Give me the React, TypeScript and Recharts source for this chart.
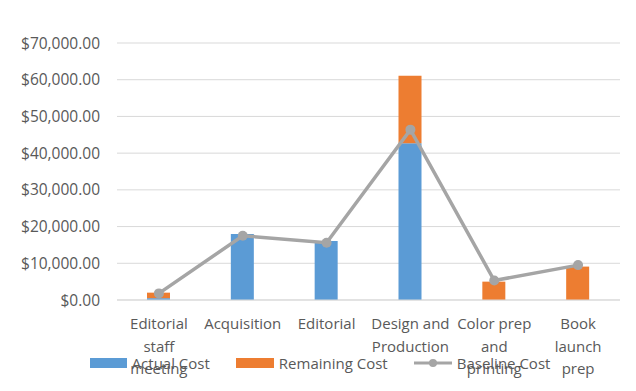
import React from "react";
import {
  ComposedChart,
  Bar,
  Line,
  XAxis,
  YAxis,
  CartesianGrid,
  Legend,
} from "recharts";

const categories = [
  "Editorial staff meeting",
  "Acquisition",
  "Editorial",
  "Design and Production",
  "Color prep and printing",
  "Book launch prep",
];
const actualCost = [500, 18000, 16100, 42700, 0, 0];
const remainingCost = [1500, 0, 0, 18400, 5000, 9100];
const baselineCost = [1800, 17500, 15600, 46400, 5300, 9500];
const yTicks = [0, 10000, 20000, 30000, 40000, 50000, 60000, 70000];

const BLUE = "#5b9bd5";
const ORANGE = "#ed7d31";
const GRAY = "#a5a5a5";
const TEXT = "#595959";
const FONT = "'Open Sans', sans-serif";

const data = categories.map((name, i) => ({
  name,
  actual: actualCost[i],
  remaining: remainingCost[i],
  baseline: baselineCost[i],
}));

const formatMoney = (v: number) =>
  "$" +
  v.toLocaleString("en-US", { minimumFractionDigits: 2, maximumFractionDigits: 2 });

let ctx: CanvasRenderingContext2D | null = null;
const textWidth = (s: string) => {
  if (!ctx) ctx = document.createElement("canvas").getContext("2d");
  if (!ctx) return s.length * 8;
  ctx.font = "15px 'Open Sans'";
  return ctx.measureText(s).width;
};

// greedy word wrap, like excel does for long category names
const wrapWords = (text: string, max: number) => {
  const lines: string[] = [];
  let cur = "";
  text.split(" ").forEach((w) => {
    const next = cur ? cur + " " + w : w;
    if (cur && textWidth(next) > max) {
      lines.push(cur);
      cur = w;
    } else {
      cur = next;
    }
  });
  if (cur) lines.push(cur);
  return lines;
};

const CategoryTick = ({ x, y, payload }: any) => {
  const lines = wrapWords(payload.value, 82);
  return (
    <g transform={`translate(${x},${y})`}>
      {lines.map((l, i) => (
        <text
          key={i}
          x={0}
          y={29 + i * 22.5}
          textAnchor="middle"
          fill={TEXT}
          fontSize={15}
          fontFamily={FONT}
        >
          {l}
        </text>
      ))}
    </g>
  );
};

const LegendContent = () => {
  const item = (swatch: React.ReactNode, label: string) => (
    <div style={{ display: "flex", alignItems: "center", marginRight: 26 }}>
      {swatch}
      <span style={{ marginLeft: 5 }}>{label}</span>
    </div>
  );
  return (
    <div
      style={{
        display: "flex",
        justifyContent: "center",
        fontFamily: FONT,
        fontSize: 15,
        color: TEXT,
        paddingLeft: 30,
      }}
    >
      {item(<div style={{ width: 37, height: 10, background: BLUE }} />, "Actual Cost")}
      {item(<div style={{ width: 38, height: 10, background: ORANGE }} />, "Remaining Cost")}
      {item(
        <svg width={38} height={12}>
          <line x1={0} y1={6} x2={38} y2={6} stroke={GRAY} strokeWidth={3} />
          <circle cx={19} cy={6} r={4} fill={GRAY} />
        </svg>,
        "Baseline Cost"
      )}
    </div>
  );
};

export default function App() {
  return (
    <div
      style={{
        position: "relative",
        margin: -8,
        width: 636,
        height: 391,
        background: "#fff",
        overflow: "hidden",
      }}
    >
      <div
        style={{
          position: "absolute",
          left: 4,
          top: 3,
          right: -2,
          bottom: -2,
          borderLeft: "1px solid #d9d9d9",
          borderTop: "1px solid #d9d9d9",
        }}
      />
      <ComposedChart
        width={636}
        height={391}
        data={data}
        margin={{ top: 43, right: 16, bottom: 0, left: 0 }}
        barSize={23}
      >
        <CartesianGrid vertical={false} stroke="#d9d9d9" />
        <XAxis
          dataKey="name"
          axisLine={{ stroke: "#d9d9d9" }}
          tickLine={false}
          tickSize={0}
          tickMargin={0}
          height={91}
          interval={0}
          tick={<CategoryTick />}
        />
        <YAxis
          width={117}
          domain={[0, 70000]}
          ticks={yTicks}
          axisLine={false}
          tickLine={false}
          tickSize={0}
          tickMargin={17}
          tickFormatter={formatMoney}
          tick={{ fill: TEXT, fontSize: 15.5, fontFamily: FONT }}
        />
        <Bar dataKey="actual" name="Actual Cost" stackId="cost" fill={BLUE} isAnimationActive={false} />
        <Bar dataKey="remaining" name="Remaining Cost" stackId="cost" fill={ORANGE} isAnimationActive={false} />
        <Line
          dataKey="baseline"
          name="Baseline Cost"
          stroke={GRAY}
          strokeWidth={3.5}
          dot={{ r: 5, fill: GRAY, stroke: GRAY, strokeWidth: 0 }}
          isAnimationActive={false}
        />
        <Legend
          layout="horizontal"
          verticalAlign="middle"
          align="center"
          content={<LegendContent />}
          wrapperStyle={{ top: 353, left: 0, width: 636 }}
        />
      </ComposedChart>
    </div>
  );
}
